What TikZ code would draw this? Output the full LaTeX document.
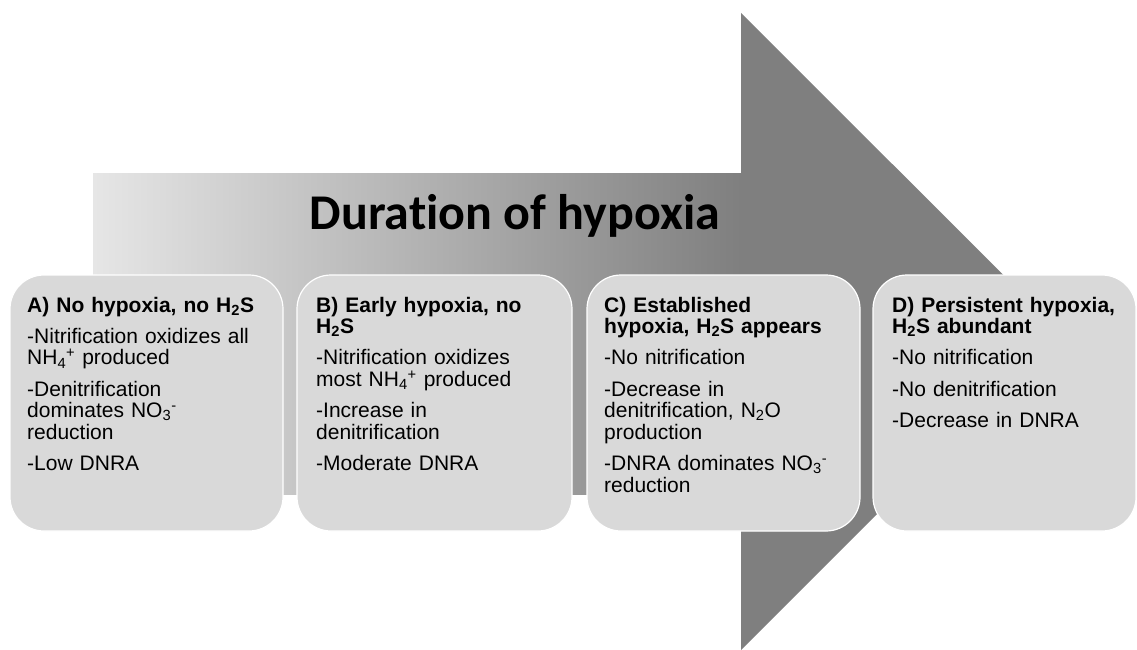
\documentclass[tikz,border=0pt]{standalone}
\usepackage{fontspec}
\setmainfont{Liberation Sans}
\newfontfamily\titlefont[Ligatures=NoCommon]{Carlito}
\definecolor{boxgray}{HTML}{D9D9D9}
\definecolor{headgray}{HTML}{7F7F7F}
\definecolor{taillight}{HTML}{E6E6E6}
\begin{document}
\begin{tikzpicture}[x=1pt,y=-1pt,
  stagebox/.style={draw=white, line width=1.2pt, fill=boxgray, rounded corners=34pt,
    minimum height=256pt, inner sep=0pt},
  stagetext/.style={anchor=base west, inner sep=0pt, align=left, text width=250pt,
    font=\fontsize{21}{21.7}\selectfont},
  titletext/.style={font=\titlefont\bfseries\fontsize{50}{50}\selectfont, anchor=base, inner sep=0pt}]
\useasboundingbox (0,0) rectangle (1137,650);
% arrow
\shade[left color=taillight, right color=headgray] (93,173) rectangle (741.5,494);
\fill[headgray] (741,13) -- (1060,331.5) -- (741,650) -- cycle;
\node[titletext] (title) at (515,229.5) {Duration of hypoxia};
% boxes
\node[stagebox, minimum width=273pt] (A) at (146.5,403) {};
\node[stagebox, minimum width=275pt] (B) at (434.5,403) {};
\node[stagebox, minimum width=273pt] (C) at (723.5,403) {};
\node[stagebox, minimum width=263pt] (D) at (1004.5,403) {};
% texts
\node[stagetext] (At) at (27,312) {\textbf{A) No hypoxia, no H\textsubscript{2}S}\\[9.5pt]
-Nitrification oxidizes all\\ NH\textsubscript{4}\textsuperscript{+} produced\\[9.5pt]
-Denitrification\\ dominates NO\textsubscript{3}\textsuperscript{-}\\ reduction\\[9.5pt]
-Low DNRA};
\node[stagetext] (Bt) at (316,312) {\textbf{B) Early hypoxia, no}\\ \textbf{H\textsubscript{2}S}\\[9.5pt]
-Nitrification oxidizes\\ most NH\textsubscript{4}\textsuperscript{+} produced\\[9.5pt]
-Increase in\\ denitrification\\[9.5pt]
-Moderate DNRA};
\node[stagetext] (Ct) at (604,312) {\textbf{C) Established}\\ \textbf{hypoxia, H\textsubscript{2}S appears}\\[9.5pt]
-No nitrification\\[9.5pt]
-Decrease in\\ denitrification, N\textsubscript{2}O\\ production\\[9.5pt]
-DNRA dominates NO\textsubscript{3}\textsuperscript{-}\\ reduction};
\node[stagetext] (Dt) at (892,312) {\textbf{D) Persistent hypoxia,}\\ \textbf{H\textsubscript{2}S abundant}\\[9.5pt]
-No nitrification\\[9.5pt]
-No denitrification\\[9.5pt]
-Decrease in DNRA};
\end{tikzpicture}
\end{document}
